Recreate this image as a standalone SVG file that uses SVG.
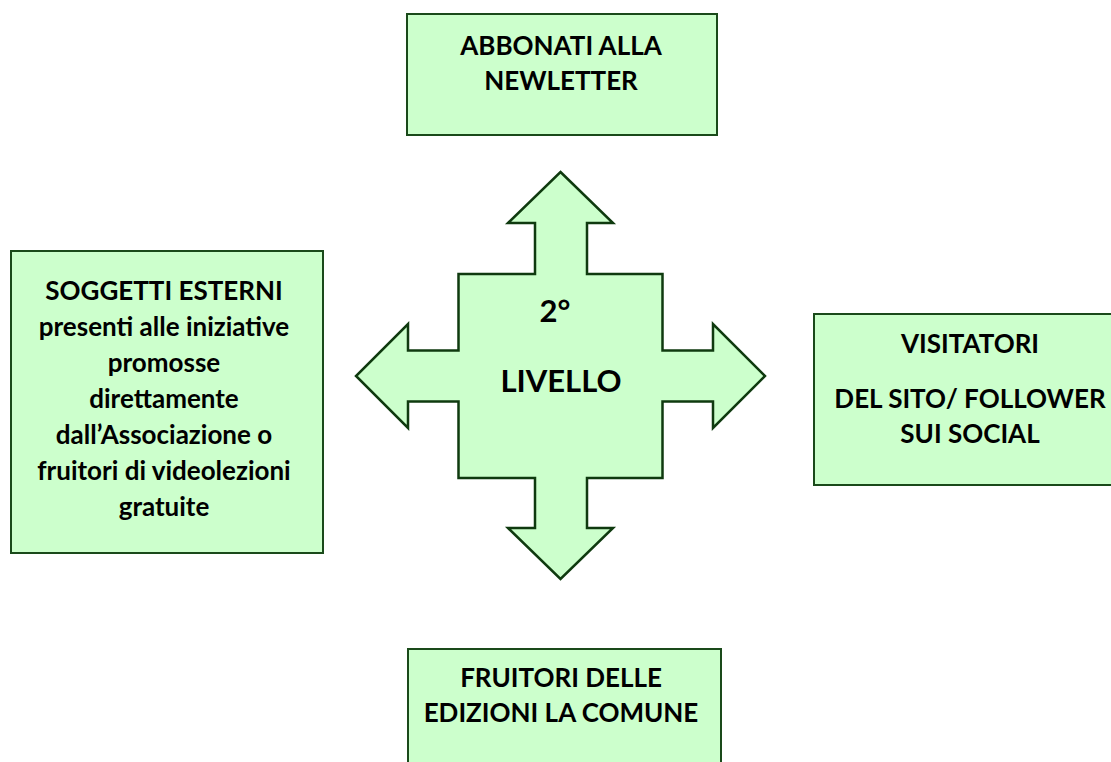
<svg xmlns="http://www.w3.org/2000/svg" width="1111" height="762" viewBox="0 0 1111 762">
<style>
.box{fill:#ccffcc;stroke:#1a4a1a;stroke-width:2}
.arrow{fill:#ccffcc;stroke:#0f3a0f;stroke-width:2.5;stroke-linejoin:miter}
text{font-family:Lato,"Open Sans","Liberation Sans",sans-serif;font-weight:bold;font-size:26px;fill:#000;text-anchor:middle}
.big{font-size:31px}
</style>
<rect width="1111" height="762" fill="#fff"/>
<g id="connectors">
<polygon id="center-arrow" class="arrow" points="560.5,172 613,223 587,223 587,274 662.5,274 662.5,350.5 713,350.5 713,324 765,376 713,428 713,401.5 662.5,401.5 662.5,478 587,478 587,528 613,528 560.5,579 508,528 535,528 535,478 458.5,478 458.5,401.5 408,401.5 408,428 356,376 408,324 408,350.5 458.5,350.5 458.5,274 535,274 535,223 508,223"/>
</g>
<g id="center">
<text class="big" x="555" y="322">2°</text>
<text class="big" x="561" y="392">LIVELLO</text>
</g>
<g id="top">
<rect class="box" x="407" y="14" width="310" height="121"/>
<text x="561" y="55">ABBONATI ALLA</text>
<text x="561" y="90">NEWLETTER</text>
</g>
<g id="left">
<rect class="box" x="11" y="251" width="312" height="302"/>
<text x="164" y="300">SOGGETTI ESTERNI</text>
<text x="164" y="336">presenti alle iniziative</text>
<text x="164" y="372">promosse</text>
<text x="164" y="408">direttamente</text>
<text x="164" y="444">dall’Associazione o</text>
<text x="164" y="480">fruitori di videolezioni</text>
<text x="164" y="516">gratuite</text>
</g>
<g id="right">
<rect class="box" x="814" y="314" width="320" height="171"/>
<text x="970" y="353">VISITATORI</text>
<text x="970" y="408">DEL SITO/ FOLLOWER</text>
<text x="970" y="443">SUI SOCIAL</text>
</g>
<g id="bottom">
<rect class="box" x="408" y="649" width="313" height="130"/>
<text x="561" y="687">FRUITORI DELLE</text>
<text x="561" y="722">EDIZIONI LA COMUNE</text>
</g>
</svg>
